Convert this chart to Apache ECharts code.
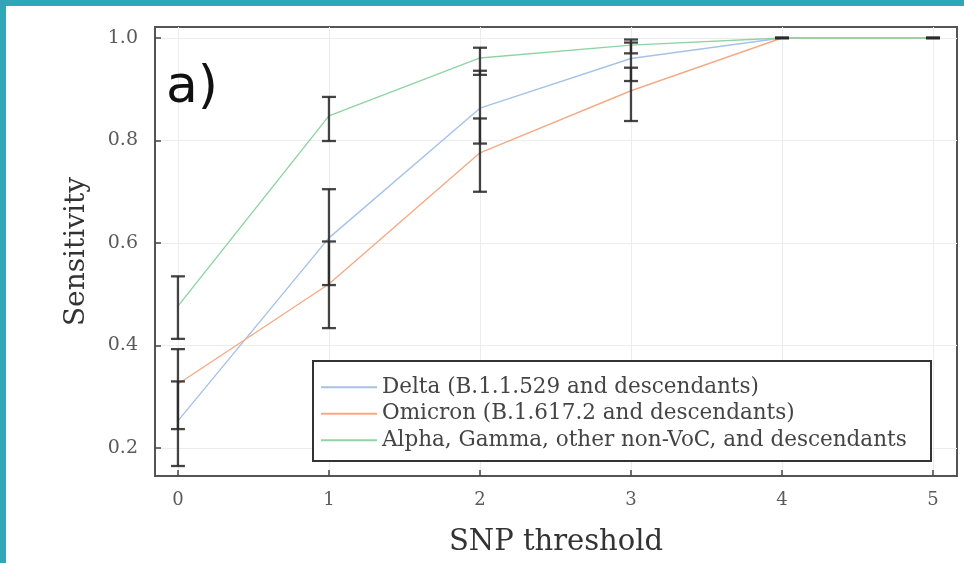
<!DOCTYPE html>
<html><head><meta charset="utf-8">
<script src="https://cdn.jsdelivr.net/npm/echarts@6/dist/echarts.min.js"></script>
<style>html,body{margin:0;padding:0;background:#fff}#c{width:964px;height:563px}</style>
</head><body><div id="c"></div>
<script>
const thresholds = [0, 1, 2, 3, 4, 5];
const xTicks = [0, 1, 2, 3, 4, 5];
const yTicks = [0.2, 0.4, 0.6, 0.8, 1.0];
const seriesNames = [
  'Delta (B.1.1.529 and descendants)',
  'Omicron (B.1.617.2 and descendants)',
  'Alpha, Gamma, other non-VoC, and descendants'
];
const delta      = [0.253, 0.610, 0.863, 0.960, 1.0, 1.0];
const deltaLow   = [0.165, 0.518, 0.794, 0.916, 1.0, 1.0];
const deltaHigh  = [0.330, 0.705, 0.936, 0.991, 1.0, 1.0];
const omicron     = [0.325, 0.520, 0.776, 0.897, 1.0, 1.0];
const omicronLow  = [0.237, 0.434, 0.700, 0.838, 1.0, 1.0];
const omicronHigh = [0.393, 0.603, 0.843, 0.942, 1.0, 1.0];
const alpha     = [0.477, 0.848, 0.961, 0.986, 1.0, 1.0];
const alphaLow  = [0.413, 0.799, 0.928, 0.970, 1.0, 1.0];
const alphaHigh = [0.535, 0.885, 0.981, 0.997, 1.0, 1.0];

const colors = ['#a6c2e9', '#f3ab86', '#8fd3a3'];
const serif = 'DejaVu Serif';

function pts(vals){ return thresholds.map((x,i)=>[x, vals[i]]); }
function errs(lo, hi){ return thresholds.map((x,i)=>[x, lo[i], hi[i]]); }

const errData = errs(deltaLow, deltaHigh).concat(errs(omicronLow, omicronHigh), errs(alphaLow, alphaHigh));

const chart = echarts.init(document.getElementById('c'), null, {renderer:'canvas'});
chart.setOption({
  animation: false,
  backgroundColor: '#fff',
  grid: {left: 155, right: 7, top: 27, bottom: 87, show: true, borderColor: '#555', borderWidth: 2},
  xAxis: {
    type: 'value', min: -0.152, max: 5.159,
    name: 'SNP threshold', nameLocation: 'middle', nameGap: 52,
    nameTextStyle: {fontFamily: serif, fontSize: 29, color: '#333'},
    axisLine: {show: true, onZero: false, lineStyle: {color: '#555', width: 2}},
    axisTick: {show: true, inside: true, length: 6, customValues: xTicks, lineStyle: {color: '#444', width: 1.5}},
    axisLabel: {customValues: xTicks, fontFamily: serif, fontSize: 18, color: '#5a5a5a', margin: 15, formatter: v => String(v)},
    splitLine: {show: true, lineStyle: {color: '#ececec', width: 1}}
  },
  yAxis: {
    type: 'value', min: 0.1455, max: 1.0214,
    name: 'Sensitivity', nameLocation: 'middle', nameGap: 64,
    nameTextStyle: {fontFamily: serif, fontSize: 28, color: '#333'},
    axisLine: {show: true, onZero: false, lineStyle: {color: '#555', width: 2}},
    axisTick: {show: true, inside: true, length: 6, customValues: yTicks, lineStyle: {color: '#444', width: 1.5}},
    axisLabel: {customValues: yTicks, fontFamily: serif, fontSize: 19, color: '#5a5a5a', margin: 17, formatter: v => v.toFixed(1)},
    splitLine: {show: true, lineStyle: {color: '#ececec', width: 1}}
  },
  legend: {
    show: true, orient: 'vertical', left: 316, top: 371, z: 60,
    itemWidth: 56, itemHeight: 2, itemGap: 4, icon: 'rect',
    textStyle: {fontFamily: serif, fontSize: 21.5, color: '#444', lineHeight: 22.5},
    data: seriesNames
  },
  graphic: [
    {type: 'rect', shape: {x: 313, y: 361, width: 618, height: 100}, style: {fill: '#fff', stroke: '#333', lineWidth: 2}, z: 10, silent: true},
    {type: 'text', left: 166, top: 62, style: {text: 'a)', font: '52px "DejaVu Sans"', fill: '#111'}, z: 60},
    {type: 'rect', shape: {x: 0, y: 0, width: 964, height: 6}, style: {fill: '#2fa7b7'}, z: 100},
    {type: 'rect', shape: {x: 0, y: 0, width: 6, height: 563}, style: {fill: '#2fa7b7'}, z: 100}
  ],
  series: [
    {name: seriesNames[0], type: 'line', data: pts(delta), symbol: 'none', lineStyle: {color: colors[0], width: 1.4}, itemStyle: {color: colors[0]}, z: 3},
    {name: seriesNames[1], type: 'line', data: pts(omicron), symbol: 'none', lineStyle: {color: colors[1], width: 1.4}, itemStyle: {color: colors[1]}, z: 3},
    {name: seriesNames[2], type: 'line', data: pts(alpha), symbol: 'none', lineStyle: {color: colors[2], width: 1.4}, itemStyle: {color: colors[2]}, z: 3},
    {
      type: 'custom', data: errData, z: 5,
      renderItem: function(params, api){
        const x = api.value(0), lo = api.value(1), hi = api.value(2);
        const p1 = api.coord([x, lo]), p2 = api.coord([x, hi]);
        const w = 7;
        const st = {stroke: '#2a2a2a', lineWidth: 2.3, opacity: 0.88};
        return {type: 'group', children: [
          {type: 'line', shape: {x1: p1[0], y1: p1[1], x2: p2[0], y2: p2[1]}, style: st},
          {type: 'line', shape: {x1: p1[0]-w, y1: p1[1], x2: p1[0]+w, y2: p1[1]}, style: st},
          {type: 'line', shape: {x1: p2[0]-w, y1: p2[1], x2: p2[0]+w, y2: p2[1]}, style: st}
        ]};
      }
    }
  ]
});
</script></body></html>
